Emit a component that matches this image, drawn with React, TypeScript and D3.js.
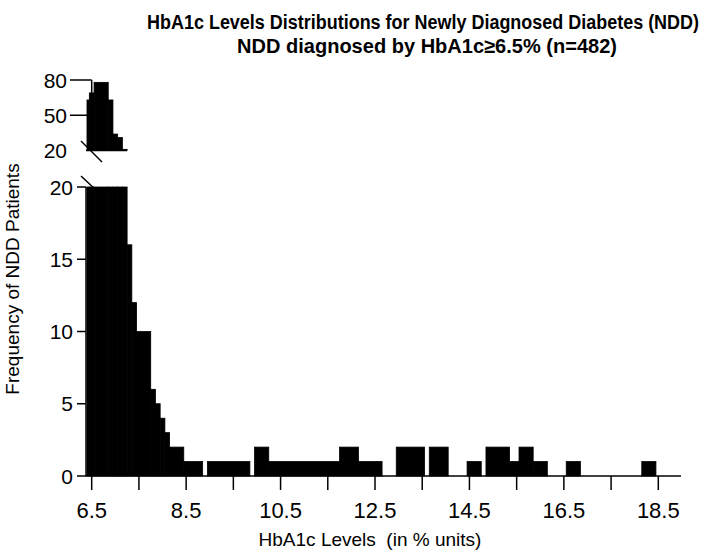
import React from 'react';
import * as d3 from 'd3';

// histogram bins (bin edges in HbA1c %, counts of patients)
const binLo = [6.4, 6.45, 6.55, 6.85, 6.95, 7.05, 7.15, 7.25, 7.35, 7.45, 7.75, 7.85, 7.95, 8.05, 8.15, 8.45, 8.95, 9.95, 10.25, 11.75, 12.15, 12.95, 13.65, 14.45, 14.85, 15.35, 15.55, 15.85, 16.55, 18.15];
const binHi = [6.45, 6.55, 6.85, 6.95, 7.05, 7.15, 7.25, 7.35, 7.45, 7.75, 7.85, 7.95, 8.05, 8.15, 8.45, 8.85, 9.85, 10.25, 11.75, 12.15, 12.65, 13.55, 14.05, 14.75, 15.35, 15.55, 15.85, 16.15, 16.85, 18.45];
const patients = [63, 69, 78, 63, 34, 31, 21, 16, 12, 10, 6, 5, 4, 3, 2, 1, 1, 2, 1, 2, 1, 2, 2, 1, 2, 1, 2, 1, 1, 1];

const xTickValues = [6.5, 7.5, 8.5, 9.5, 10.5, 11.5, 12.5, 13.5, 14.5, 15.5, 16.5, 17.5, 18.5];
const xTickLabels = ['6.5', '8.5', '10.5', '12.5', '14.5', '16.5', '18.5'];
const yLowTicks = [0, 5, 10, 15, 20];
const yHighTicks = [20, 50, 80];

const title1 = 'HbA1c Levels Distributions for Newly Diagnosed Diabetes (NDD)';
const title2 = 'NDD diagnosed by HbA1c\u22656.5% (n=482)';

const W = 711;
const H = 559;
const font = 'Liberation Sans, Arial, sans-serif';

export default function App() {
  const x = d3.scaleLinear().domain([6.5, 18.5]).range([91.7, 658.3]);
  const yLow = d3.scaleLinear().domain([0, 20]).range([476, 187]);
  const yHigh = d3.scaleLinear().domain([20, 80]).range([150.5, 80]);

  const bins = binLo.map((lo, i) => ({ lo, hi: binHi[i], n: patients[i] }));
  const axisLeft = 86;
  const axisRight = x(18.98);
  const upperAxisX = x(6.5);

  return (
    <svg width={W} height={H} style={{ position: 'absolute', left: 0, top: 0, background: '#fff' }}>
      <rect width={W} height={H} fill="#fff" />
      {/* titles: condensed bold, stretched vertically */}
      <g transform="translate(423,29) scale(1,1.15)">
        <text x={0} y={0} textAnchor="middle" fontFamily={font} fontWeight="bold" fontSize={17.5}
          textLength={552} lengthAdjust="spacingAndGlyphs">{title1}</text>
      </g>
      <g transform="translate(427,53) scale(1,1.15)">
        <text x={0} y={0} textAnchor="middle" fontFamily={font} fontWeight="bold" fontSize={17.5}
          textLength={380} lengthAdjust="spacingAndGlyphs">{title2}</text>
      </g>

      {/* upper segment axis */}
      <line x1={upperAxisX} x2={upperAxisX} y1={yHigh(80)} y2={yHigh(20)} stroke="#000" strokeWidth={1.5} />
      {yHighTicks.filter(t => t > 20).map(t => (
        <line key={'hu' + t} x1={70} x2={upperAxisX} y1={yHigh(t)} y2={yHigh(t)} stroke="#000" strokeWidth={1.5} />
      ))}
      {yHighTicks.map(t => (
        <text key={'hl' + t} x={67} y={yHigh(t)} dy="0.36em" textAnchor="end" fontFamily={font} fontSize={21}>{t}</text>
      ))}
      <line x1={axisLeft} x2={x(7.25)} y1={yHigh(20)} y2={yHigh(20)} stroke="#000" strokeWidth={1.5} />
      <line x1={81} x2={102} y1={yHigh(20) - 9.5} y2={yHigh(20) + 11.5} stroke="#000" strokeWidth={1.5} />

      {/* lower segment axis */}
      <line x1={axisLeft} x2={axisLeft} y1={yLow(20)} y2={yLow(0)} stroke="#000" strokeWidth={1.5} />
      {yLowTicks.map(t => (
        <g key={'ll' + t}>
          <line x1={77} x2={axisLeft} y1={yLow(t)} y2={yLow(t)} stroke="#000" strokeWidth={1.5} />
          <text x={73} y={yLow(t)} dy="0.36em" textAnchor="end" fontFamily={font} fontSize={21}>{t}</text>
        </g>
      ))}
      <line x1={81} x2={97} y1={yLow(20) - 11} y2={yLow(20) + 4} stroke="#000" strokeWidth={1.5} />

      {/* bars, upper panel */}
      {bins.filter(b => b.n > 20).map((b, i) => (
        <rect key={'bu' + i} x={x(b.lo)} width={x(b.hi) - x(b.lo)} y={yHigh(Math.min(b.n, 80))}
          height={yHigh(20) - yHigh(Math.min(b.n, 80))} fill="#000" stroke="#000" strokeWidth={0.8} />
      ))}
      {/* bars, lower panel */}
      {bins.map((b, i) => (
        <rect key={'bl' + i} x={x(b.lo)} width={x(b.hi) - x(b.lo)} y={yLow(Math.min(b.n, 20))}
          height={yLow(0) - yLow(Math.min(b.n, 20))} fill="#000" stroke="#000" strokeWidth={0.8} />
      ))}

      {/* x axis */}
      <line x1={axisLeft} x2={axisRight} y1={yLow(0)} y2={yLow(0)} stroke="#000" strokeWidth={1.5} />
      {xTickValues.map(t => (
        <line key={'xt' + t} x1={x(t)} x2={x(t)} y1={yLow(0)} y2={yLow(0) + 14} stroke="#000" strokeWidth={1.5} />
      ))}
      {xTickLabels.map(l => (
        <text key={'xl' + l} x={x(+l)} y={518} textAnchor="middle" fontFamily={font} fontSize={22}>{l}</text>
      ))}
      <text x={370} y={546} textAnchor="middle" fontFamily={font} fontSize={19} style={{ whiteSpace: 'pre' }}>
        {'HbA1c Levels  (in % units)'}
      </text>
      <text transform="translate(19,279) rotate(-90)" textAnchor="middle" fontFamily={font} fontSize={19}>
        Frequency of NDD Patients
      </text>
    </svg>
  );
}
